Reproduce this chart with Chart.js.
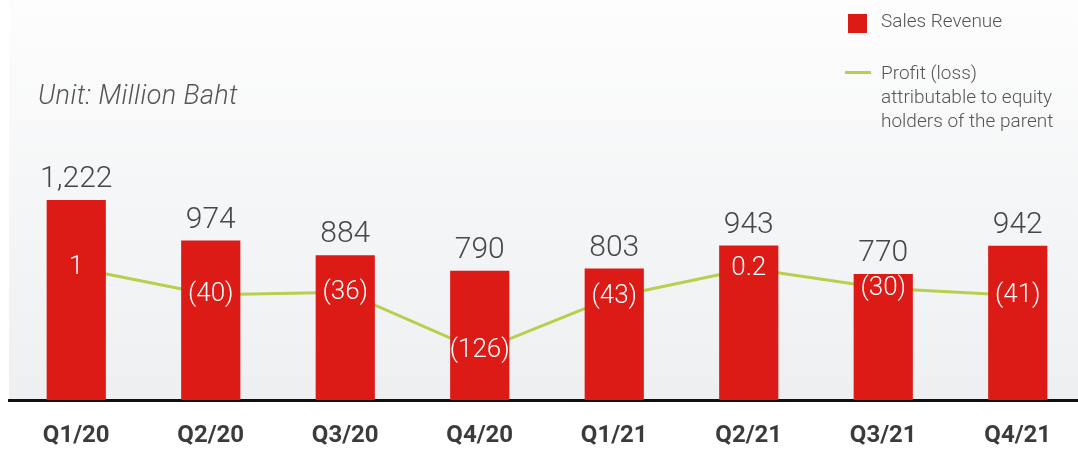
<!DOCTYPE html>
<html>
<head>
<meta charset="utf-8">
<script src="https://cdn.jsdelivr.net/npm/chart.js@4"></script>
<style>
  html, body { margin:0; padding:0; background:#ffffff; overflow:hidden; width:1078px; height:453px; }
  #wrap { position:relative; width:1078px; height:453px; overflow:hidden; }
  canvas { position:absolute; left:0; top:0; }
  .unit { position:absolute; left:38px; top:79px; font-family:Roboto, sans-serif; font-weight:300; font-style:italic; font-size:27px; letter-spacing:0.4px; color:#555; white-space:nowrap; line-height:32px; }
  .leg { position:absolute; font-family:Roboto, sans-serif; font-weight:300; font-size:19px; color:#555; line-height:24px; white-space:nowrap; }
  .sw { position:absolute; }
</style>
</head>
<body>
<div id="wrap">
  <canvas id="c" width="1085" height="453"></canvas>
  <div class="unit">Unit: Million Baht</div>
  <div class="sw" style="left:848px;top:14px;width:19px;height:19px;background:#dc1a16;"></div>
  <div class="leg" style="left:881px;top:9px;">Sales Revenue</div>
  <div class="sw" style="left:845px;top:71px;width:26px;height:3px;background:#b7cf4c;"></div>
  <div class="leg" style="left:881px;top:61px;">Profit (loss)<br>attributable to equity<br>holders of the parent</div>
</div>
<script>
const categories = ["Q1/20","Q2/20","Q3/20","Q4/20","Q1/21","Q2/21","Q3/21","Q4/21"];
const salesRevenue = [1222, 974, 884, 790, 803, 943, 770, 942];
const profitLoss = [1, -40, -36, -126, -43, 0.2, -30, -41];

function fmtRevenue(v){ return v.toLocaleString('en-US'); }
function fmtProfit(v){ return v < 0 ? '(' + Math.abs(v) + ')' : String(v); }

const bgPlugin = {
  id: 'bg',
  beforeDraw(chart){
    const {ctx, chartArea} = chart;
    const g = ctx.createLinearGradient(0, 0, 0, chartArea.bottom);
    g.addColorStop(0, '#fdfdfd');
    g.addColorStop(1, '#edeff1');
    ctx.save();
    ctx.fillStyle = g;
    ctx.fillRect(9, 0, chart.width - 9, chartArea.bottom);
    ctx.restore();
  }
};

const labelPlugin = {
  id: 'labels',
  afterDatasetsDraw(chart){
    const ctx = chart.ctx;
    ctx.save();
    const barMeta = chart.getDatasetMeta(0);
    ctx.fillStyle = '#474747';
    ctx.font = '300 30px Roboto';
    ctx.textAlign = 'center';
    ctx.textBaseline = 'alphabetic';
    barMeta.data.forEach((el, i) => {
      ctx.fillText(fmtRevenue(salesRevenue[i]), el.x, el.y - 13);
    });
    const lineMeta = chart.getDatasetMeta(1);
    ctx.fillStyle = '#ffffff';
    ctx.font = '300 26px Roboto';
    ctx.textBaseline = 'middle';
    lineMeta.data.forEach((el, i) => {
      ctx.fillText(fmtProfit(profitLoss[i]), el.x, el.y);
    });
    ctx.restore();
  }
};

new Chart(document.getElementById('c'), {
  data: {
    labels: categories,
    datasets: [
      {
        type: 'bar',
        label: 'Sales Revenue',
        data: salesRevenue,
        backgroundColor: '#dc1a16',
        yAxisID: 'y',
        order: 1,
        categoryPercentage: 1,
        barPercentage: 0.44
      },
      {
        type: 'line',
        label: 'Profit (loss) attributable to equity holders of the parent',
        data: profitLoss,
        borderColor: '#b7cf4c',
        borderWidth: 3,
        pointRadius: 0,
        tension: 0,
        yAxisID: 'y2',
        order: 2
      }
    ]
  },
  options: {
    responsive: false,
    animation: false,
    layout: { padding: { left: 9, right: 0, top: 0, bottom: 0 } },
    plugins: { legend: { display: false }, tooltip: { enabled: false } },
    scales: {
      x: {
        offset: true,
        grid: { display: false, drawTicks: false },
        border: { display: true, color: '#111111', width: 3 },
        ticks: { color: '#3b3b3b', font: { family: 'Roboto', size: 24, weight: 'bold' }, padding: 22 },
        afterFit(scale){ scale.height = 53; }
      },
      y: { display: false, min: 0, max: 2443 },
      y2: { display: false, min: -201, max: 411 }
    }
  },
  plugins: [bgPlugin, labelPlugin]
});
</script>
</body>
</html>
